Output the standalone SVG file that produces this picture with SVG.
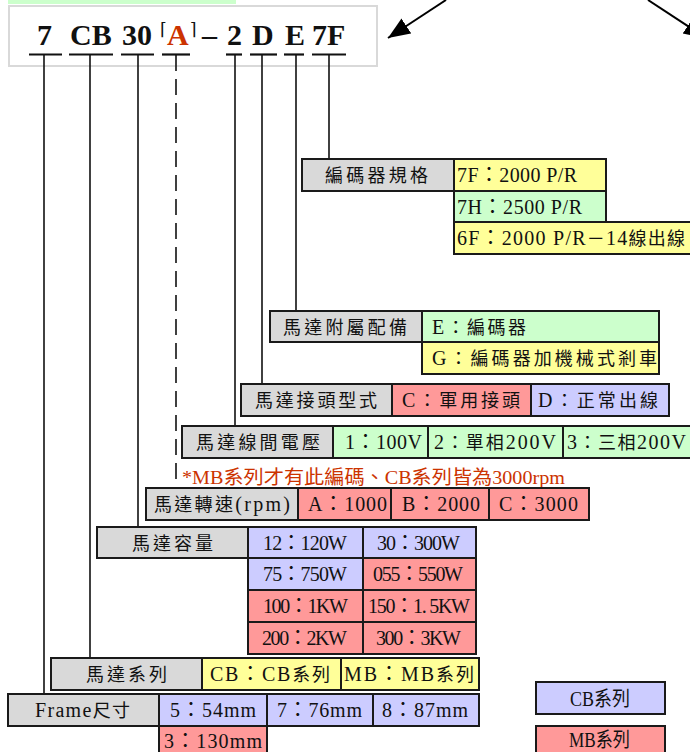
<svg xmlns="http://www.w3.org/2000/svg" width="690" height="752" viewBox="0 0 690 752">
<style>
text{font-family:"Liberation Serif","Noto Sans CJK TC",serif;font-size:18px;fill:#111}
text.v{font-size:20px}
tspan.k{font-size:18px}
.g{fill:#d9d9d9}.y{fill:#ffff99}.gr{fill:#ccffcc}.p{fill:#ff9999}.l{fill:#ccccff}
rect.b{stroke:#1a1a1a;stroke-width:2}
.t{font-size:30px;font-weight:bold}
.br{font-family:"DejaVu Serif",serif;font-size:17px}
.c{stroke:#111;stroke-width:1.6;fill:none}
.u{stroke:#111;stroke-width:2.2}
.note{fill:#cc3300;font-size:19px}
.lg{font-size:20px}
</style>
<defs>
<marker id="ah" markerUnits="userSpaceOnUse" markerWidth="24" markerHeight="20" refX="22" refY="9" orient="auto">
<polygon points="0,0 22,9 0,18" fill="#000"/>
</marker>
</defs>

<rect x="8" y="0" width="228" height="4" fill="#ccffcc"/>

<g id="title">
<rect x="9" y="6" width="368" height="60" fill="#fff" stroke="#d9d9d9" stroke-width="2"/>
<text class="t" x="37" y="45">7</text>
<text class="t" x="70" y="45">CB</text>
<text class="t" x="122" y="45">30</text>
<text class="br" x="160" y="35">⌈</text>
<text class="t" x="167" y="45" style="fill:#cc3300">A</text>
<text class="br" x="190" y="35">⌉</text>
<text class="t" x="202" y="45">–</text>
<text class="t" x="227" y="45">2</text>
<text class="t" x="252" y="45">D</text>
<text class="t" x="285" y="45">E</text>
<text class="t" x="312" y="45">7F</text>
</g>

<g id="connectors">
<line class="u" x1="29" y1="54.5" x2="62" y2="54.5"/>
<line class="u" x1="69" y1="54.5" x2="113" y2="54.5"/>
<line class="u" x1="121" y1="54.5" x2="154" y2="54.5"/>
<line class="u" x1="162" y1="54.5" x2="190" y2="54.5"/>
<line class="u" x1="226" y1="54.5" x2="242" y2="54.5"/>
<line class="u" x1="250" y1="54.5" x2="277" y2="54.5"/>
<line class="u" x1="284" y1="54.5" x2="304" y2="54.5"/>
<line class="u" x1="312" y1="54.5" x2="346" y2="54.5"/>
<line class="c" x1="44" y1="55" x2="44" y2="694"/>
<line class="c" x1="90" y1="55" x2="90" y2="658"/>
<line class="c" x1="138" y1="55" x2="138" y2="527"/>
<line class="c" x1="176" y1="55" x2="176" y2="488" stroke-dasharray="16 8"/>
<line class="c" x1="235" y1="55" x2="235" y2="426"/>
<line class="c" x1="262" y1="55" x2="262" y2="384"/>
<line class="c" x1="296" y1="55" x2="296" y2="311"/>
<line class="c" x1="329" y1="55" x2="329" y2="159"/>
<line x1="446" y1="0" x2="388" y2="38" stroke="#000" stroke-width="2" marker-end="url(#ah)"/>
<line x1="648" y1="0" x2="706" y2="38" stroke="#000" stroke-width="2" marker-end="url(#ah)"/>
</g>

<g id="encoder">
<rect class="b g" x="302" y="159" width="152" height="32"/>
<text x="325" y="182" textLength="103" lengthAdjust="spacing">編碼器規格</text>
<rect class="b y" x="454" y="159" width="152" height="32"/>
<text class="v" x="457" y="182" textLength="120" lengthAdjust="spacing">7F：2000 P/R</text>
<rect class="b gr" x="454" y="191" width="152" height="31"/>
<text class="v" x="457" y="214" textLength="125" lengthAdjust="spacing">7H：2500 P/R</text>
<rect class="b y" x="454" y="222" width="240" height="32"/>
<text class="v" x="457" y="245" textLength="228" lengthAdjust="spacing">6F：2000 P/R<tspan class="k">－</tspan>14<tspan class="k">線出線</tspan></text>
</g>

<g id="accessory">
<rect class="b g" x="270" y="311" width="152" height="31"/>
<text x="283" y="334" textLength="124" lengthAdjust="spacing">馬達附屬配備</text>
<rect class="b gr" x="422" y="311" width="237" height="31"/>
<text class="v" x="432" y="334" textLength="94" lengthAdjust="spacing">E<tspan class="k">：編碼器</tspan></text>
<rect class="b y" x="422" y="342" width="237" height="32"/>
<text class="v" x="432" y="365" textLength="225" lengthAdjust="spacing">G<tspan class="k">：編碼器加機械式剎車</tspan></text>
</g>

<g id="connector-type">
<rect class="b g" x="241" y="384" width="151" height="32"/>
<text x="255" y="407" textLength="122" lengthAdjust="spacing">馬達接頭型式</text>
<rect class="b p" x="392" y="384" width="139" height="32"/>
<text class="v" x="402" y="407" textLength="118" lengthAdjust="spacing">C<tspan class="k">：軍用接頭</tspan></text>
<rect class="b l" x="531" y="384" width="138" height="32"/>
<text class="v" x="538" y="407" textLength="120" lengthAdjust="spacing">D<tspan class="k">：正常出線</tspan></text>
</g>

<g id="voltage">
<rect class="b g" x="182" y="426" width="151" height="32"/>
<text x="196" y="449" textLength="124" lengthAdjust="spacing">馬達線間電壓</text>
<rect class="b gr" x="333" y="426" width="95" height="32"/>
<text class="v" x="345" y="449" textLength="77" lengthAdjust="spacing">1：100V</text>
<rect class="b gr" x="428" y="426" width="135" height="32"/>
<text class="v" x="434" y="449" textLength="122" lengthAdjust="spacing">2<tspan class="k">：單相</tspan>200V</text>
<rect class="b gr" x="563" y="426" width="132" height="32"/>
<text class="v" x="567" y="449" textLength="119" lengthAdjust="spacing">3<tspan class="k">：三相</tspan>200V</text>
</g>

<g id="note">
<text class="note" x="182" y="484" textLength="383" lengthAdjust="spacingAndGlyphs">*MB系列才有此編碼、CB系列皆為3000rpm</text>
</g>

<g id="speed">
<rect class="b g" x="146" y="488" width="152" height="32"/>
<text x="154" y="511" textLength="136" lengthAdjust="spacing">馬達轉速<tspan style="font-size:20px">(rpm)</tspan></text>
<rect class="b p" x="298" y="488" width="93" height="32"/>
<text class="v" x="308" y="511" textLength="79" lengthAdjust="spacing">A：1000</text>
<rect class="b p" x="391" y="488" width="98" height="32"/>
<text class="v" x="402" y="511" textLength="78" lengthAdjust="spacing">B：2000</text>
<rect class="b p" x="489" y="488" width="100" height="32"/>
<text class="v" x="499" y="511" textLength="79" lengthAdjust="spacing">C：3000</text>
</g>

<g id="capacity">
<rect class="b g" x="97" y="527" width="151" height="31"/>
<text x="132" y="550" textLength="81" lengthAdjust="spacing">馬達容量</text>
<rect class="b l" x="248" y="527" width="115" height="31"/>
<text class="v" x="263" y="550" textLength="84" lengthAdjust="spacing">12：120W</text>
<rect class="b l" x="363" y="527" width="113" height="31"/>
<text class="v" x="377" y="550" textLength="83" lengthAdjust="spacing">30：300W</text>
<rect class="b l" x="248" y="558" width="115" height="32"/>
<text class="v" x="263" y="581" textLength="84" lengthAdjust="spacing">75：750W</text>
<rect class="b p" x="363" y="558" width="113" height="32"/>
<text class="v" x="373" y="581" textLength="90" lengthAdjust="spacing">055：550W</text>
<rect class="b p" x="248" y="590" width="115" height="32"/>
<text class="v" x="263" y="613" textLength="85" lengthAdjust="spacing">100：1KW</text>
<rect class="b p" x="363" y="590" width="113" height="32"/>
<text class="v" x="368" y="613" textLength="102" lengthAdjust="spacing">150：1. 5KW</text>
<rect class="b p" x="248" y="622" width="115" height="32"/>
<text class="v" x="262" y="645" textLength="85" lengthAdjust="spacing">200：2KW</text>
<rect class="b p" x="363" y="622" width="113" height="32"/>
<text class="v" x="376" y="645" textLength="85" lengthAdjust="spacing">300：3KW</text>
</g>

<g id="series">
<rect class="b g" x="51" y="658" width="151" height="32"/>
<text x="86" y="681" textLength="81" lengthAdjust="spacing">馬達系列</text>
<rect class="b y" x="202" y="658" width="139" height="32"/>
<text class="v" x="210" y="681" textLength="120" lengthAdjust="spacing">CB：CB<tspan class="k">系列</tspan></text>
<rect class="b y" x="341" y="658" width="138" height="32"/>
<text class="v" x="344" y="681" textLength="130" lengthAdjust="spacing">MB：MB<tspan class="k">系列</tspan></text>
</g>

<g id="frame">
<rect class="b g" x="8" y="694" width="151" height="32"/>
<text class="v" x="35" y="717" textLength="95" lengthAdjust="spacing">Frame<tspan class="k">尺寸</tspan></text>
<rect class="b l" x="159" y="694" width="108" height="32"/>
<text class="v" x="170" y="717" textLength="86" lengthAdjust="spacing">5：54mm</text>
<rect class="b l" x="267" y="694" width="106" height="32"/>
<text class="v" x="277" y="717" textLength="85" lengthAdjust="spacing">7：76mm</text>
<rect class="b l" x="373" y="694" width="106" height="32"/>
<text class="v" x="382" y="717" textLength="86" lengthAdjust="spacing">8：87mm</text>
<rect class="b p" x="159" y="726" width="108" height="34"/>
<text class="v" x="164" y="748" textLength="98" lengthAdjust="spacing">3：130mm</text>
</g>

<g id="legend-cb">
<rect class="b l" x="536" y="682" width="129" height="32"/>
<text class="lg" x="570" y="706" textLength="60" lengthAdjust="spacingAndGlyphs">CB系列</text>
</g>
<g id="legend-mb">
<rect class="b p" x="536" y="726" width="129" height="34"/>
<text class="lg" x="569" y="747" textLength="61" lengthAdjust="spacingAndGlyphs">MB系列</text>
</g>
</svg>
